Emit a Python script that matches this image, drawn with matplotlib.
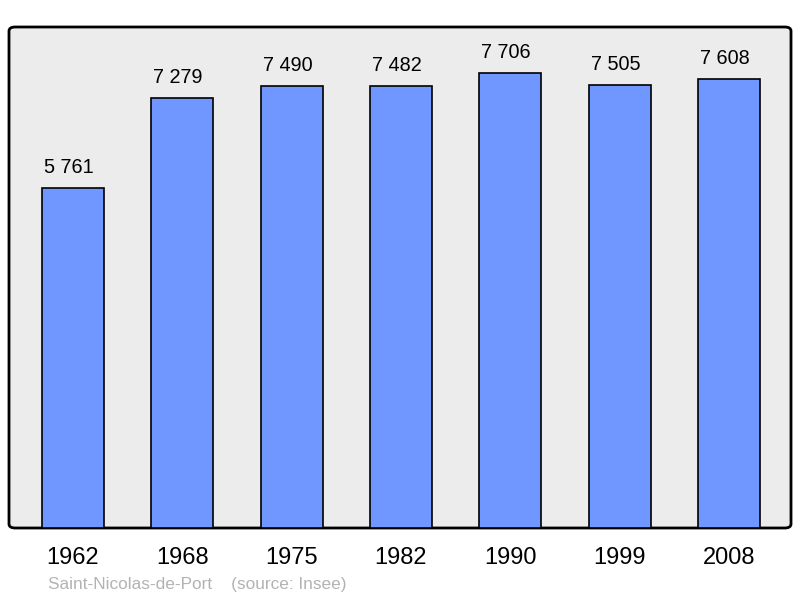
import matplotlib
matplotlib.use("Agg")
import matplotlib.pyplot as plt
from matplotlib.patches import FancyBboxPatch

years = ["1962", "1968", "1975", "1982", "1990", "1999", "2008"]
population = [5761, 7279, 7490, 7482, 7706, 7505, 7608]
labels = ["5 761", "7 279", "7 490", "7 482", "7 706", "7 505", "7 608"]

plt.rcParams['font.family'] = ['Liberation Sans', 'DejaVu Sans']

W, H = 800, 598
fig = plt.figure(figsize=(8, 5.98), dpi=100)

# plot area in pixels
x0, x1, y0, y1 = 9, 791, 27, 528
ax = fig.add_axes([x0 / W, (H - y1) / H, (x1 - x0) / W, (y1 - y0) / H])
ax.set_facecolor("none")

# rounded gray frame, drawn inside the axes under the bars
frame = FancyBboxPatch((0, 0), 1, 1,
                       boxstyle="round,pad=0,rounding_size=0.008",
                       transform=ax.transAxes, facecolor="#ececec",
                       edgecolor="black", linewidth=2, zorder=0,
                       clip_on=False)
ax.add_patch(frame)

pos = range(len(years))
ax.bar(pos, population, width=0.567, color="#7097ff", edgecolor="black",
       linewidth=1.2, zorder=2)
for p, v, lab in zip(pos, population, labels):
    ax.annotate(lab, (p, v), xytext=(-3, 8), textcoords="offset points",
                ha="center", va="bottom", fontsize=14.3)

ax.set_xlim(-0.585, 6.567)
ax.set_ylim(0, 8489)
for s in ax.spines.values():
    s.set_visible(False)
ax.set_yticks([])
ax.set_xticks(list(pos))
ax.set_xticklabels(years, fontsize=17)
ax.tick_params(axis="x", length=0, pad=14)

fig.text(48 / W, 1 - 584 / H, "Saint-Nicolas-de-Port    (source: Insee)",
         fontsize=12.4, color="#b3b3b3", va="center", ha="left")

fig.savefig("out.png", dpi=100)
